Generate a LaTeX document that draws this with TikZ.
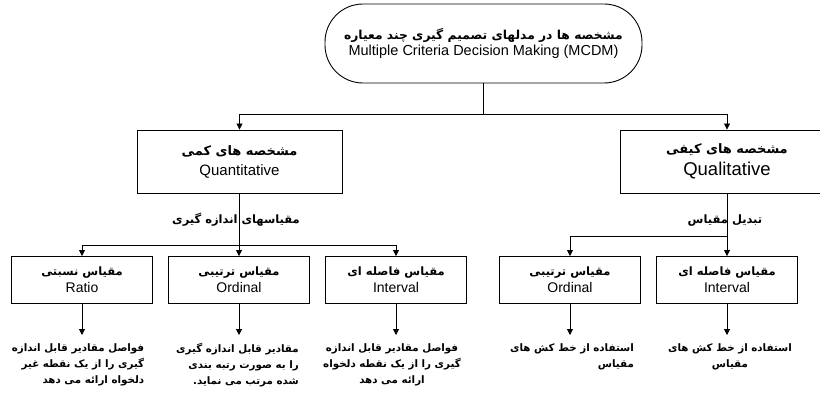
\documentclass[tikz,border=0pt]{standalone}
\usepackage{fontspec}
\setmainfont{Liberation Sans}
\newfontfamily\farsi[Script=Arabic]{DejaVu Sans}
\TeXXeTstate=1
\usetikzlibrary{arrows.meta}
\newcommand{\fa}[1]{{\farsi\bfseries\beginR #1\endR}}
% scale box: name, position, persian title, latin title
\newcommand{\measure}[4]{
  \node[scalebox] (#1) at (#2) {{\fontsize{11.5}{15}\selectfont#3}\\#4};
}
% note under a scale box: name, position, alignment, lines
\newcommand{\remark}[4]{
  \node[note,align=#3] (#1) at (#2) {#4};
}

\begin{document}
\begin{tikzpicture}[x=1pt,y=-1pt,
    scalebox/.style={draw,line width=0.9pt,align=center,minimum width=141pt,minimum height=47pt,inner sep=0pt,font=\fontsize{14}{17}\selectfont},
    arr/.style={line width=0.8pt,-{Triangle[width=6pt,length=6pt]}},
    wire/.style={line width=0.8pt},
    note/.style={anchor=north,inner sep=0pt,font=\fontsize{10.3}{16.2}\selectfont}]
  \useasboundingbox (0,0) rectangle (820,396);
  % top
  \node[draw,line width=0.9pt,rounded corners=38pt,minimum width=317pt,minimum height=79pt,align=center,font=\fontsize{14.5}{16}\selectfont] (mcdm) at (483.5,43.5)
    {{\fontsize{12.3}{16}\selectfont\fa{مشخصه ها در مدلهای تصمیم گیری چند معیاره}}\\Multiple Criteria Decision Making (MCDM)};
  \node[scalebox,minimum width=205pt,minimum height=63pt,font=\fontsize{15}{20}\selectfont] (quant) at (239.5,161.5)
    {{\fontsize{13}{18}\selectfont\fa{مشخصه های کمی}}\\Quantitative};
  \node[scalebox,minimum width=214pt,minimum height=63pt,font=\fontsize{18.5}{22}\selectfont] (qual) at (727,161.5)
    {{\fontsize{13}{18}\selectfont\fa{مشخصه های کیفی}}\\Qualitative};
  % measurement scales
  \measure{ratio}{82,280}{\fa{مقیاس نسبتی}}{Ratio}
  \measure{ordL}{239,280}{\fa{مقیاس ترتیبی}}{Ordinal}
  \measure{intL}{396,280}{\fa{مقیاس فاصله ای}}{Interval}
  \measure{ordR}{570,280}{\fa{مقیاس ترتیبی}}{Ordinal}
  \measure{intR}{727,280}{\fa{مقیاس فاصله ای}}{Interval}
  \node[font=\fontsize{11.5}{14}\selectfont] (lblQuant) at (236,220) {\fa{مقیاسهای اندازه گیری}};
  \node[font=\fontsize{11.5}{14}\selectfont] (lblQual) at (725,221) {\fa{تبدیل مقیاس}};
  % notes
  \remark{ratioTxt}{78,343}{right}{\fa{فواصل مقادیر قابل اندازه}\\\fa{گیری را از یک نقطه غیر}\\\fa{دلخواه ارائه می دهد}}
  \remark{ordLTxt}{237.5,343}{right}{\fa{مقادیر قابل اندازه گیری}\\\fa{را به صورت رتبه بندی}\\\fa{شده مرتب می نماید.}}
  \remark{intLTxt}{392,343}{center}{\fa{فواصل مقادیر قابل اندازه}\\\fa{گیری را از یک نقطه دلخواه}\\\fa{ارائه می دهد}}
  \remark{ordRTxt}{572,343}{right}{\fa{استفاده از خط کش های}\\\fa{مقیاس}}
  \remark{intRTxt}{730,343}{center}{\fa{استفاده از خط کش های}\\\fa{مقیاس}}
  % connectors
  \coordinate (bus1) at (483.5,114);
  \coordinate (bus2) at (239.5,245);
  \coordinate (bus3) at (727,236);
  \draw[wire] (mcdm.south) -- (bus1);
  \draw[arr] (bus1) -| (quant.north);
  \draw[arr] (bus1) -| (qual.north);
  \draw[wire] (quant.south) -- (bus2);
  \draw[wire] (qual.south) -- (bus3);
  \foreach \n in {ratio,ordL,intL} {
    \draw[arr] (bus2) -| (\n.north);
  }
  \foreach \n in {ordR,intR} {
    \draw[arr] (bus3) -| (\n.north);
  }
  \foreach \n in {ratio,ordL,intL,ordR,intR} {
    \draw[arr] (\n.south) -- (\n.south |- 0,335);
  }
\end{tikzpicture}
\end{document}
